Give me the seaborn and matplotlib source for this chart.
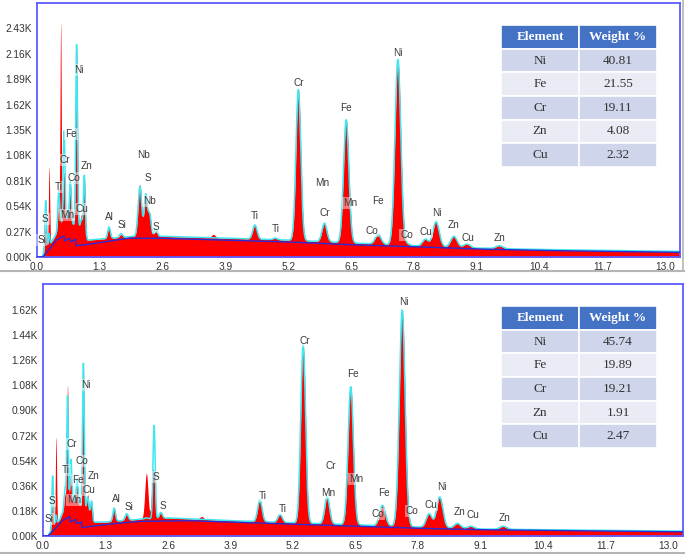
"""Two EDS spectra (counts vs keV) with element labels and weight % tables."""

import matplotlib

matplotlib.use("Agg")
import matplotlib.pyplot as plt
import numpy as np
import pandas as pd
import seaborn as sns
from matplotlib.lines import Line2D

# ---------------- data: top spectrum ----------------
top_floor_kev = [0.0, 0.1, 0.2, 0.35, 0.45, 0.6, 0.8, 0.95, 1.05, 1.3, 1.8, 2.0, 2.6, 3.9, 5.2, 6.5, 7.8, 9.1, 10.4, 11.7, 13.31]
top_floor_k = [0.0, 0.0, 0.08, 0.2, 0.3, 0.33, 0.35, 0.3, 0.18, 0.19, 0.21, 0.22, 0.22, 0.2, 0.18, 0.15, 0.12, 0.095, 0.08, 0.07, 0.06]
top_bg_kev = [0.0, 0.12, 0.25, 0.4, 0.5, 0.56, 0.57, 0.68, 0.69, 0.8, 0.81, 1.0, 1.5, 1.9, 2.5, 3.9, 5.2, 6.5, 7.8, 9.1, 10.4, 11.7, 13.31]
top_bg_k = [0.0, 0.0, 0.08, 0.18, 0.21, 0.22, 0.17, 0.2, 0.16, 0.19, 0.12, 0.13, 0.17, 0.2, 0.2, 0.18, 0.16, 0.13, 0.11, 0.085, 0.07, 0.06, 0.05]
top_peak_kev = [0.18, 0.25, 0.45, 0.49, 0.56, 0.63, 0.69, 0.82, 0.92, 0.98, 1.49, 1.74, 2.13, 2.25, 2.33, 2.46, 2.66, 3.65,
                4.51, 4.93, 5.41, 5.95, 6.40, 7.06, 7.47, 7.65, 8.04, 8.26, 8.63, 8.90, 9.57]
top_meas_k = [0.35, 0.96, 0.55, 2.46, 0.9, 0.45, 0.78, 2.2, 0.45, 0.85, 0.32, 0.24, 0.77, 0.62, 0.45, 0.28, 0.23, 0.24,
              0.34, 0.2, 1.78, 0.36, 1.46, 0.24, 2.1, 0.14, 0.19, 0.375, 0.22, 0.14, 0.12]
top_fit_k = [0.6, 0.25, 0.7, 0.4, 1.34, 0.42, 0.81, 2.26, 0.4, 0.87, 0.32, 0.25, 0.75, 0.66, 0.45, 0.3, 0.22, 0.2,
             0.34, 0.2, 1.78, 0.36, 1.46, 0.24, 2.1, 0.14, 0.19, 0.375, 0.22, 0.14, 0.12]
top_sigma = [0.017, 0.013, 0.019, 0.013, 0.019, 0.019, 0.019, 0.018, 0.019, 0.018, 0.027, 0.032, 0.037, 0.032, 0.032, 0.03, 0.03, 0.04,
             0.045, 0.045, 0.05, 0.05, 0.055, 0.06, 0.06, 0.06, 0.06, 0.065, 0.065, 0.065, 0.07]
top_labels = ["Si", "S", "Ti", "Cr", "Fe", "Ni", "Co", "Zn", "Mn", "Cu", "Al", "Si", "Nb", "S", "Nb", "S",
              "Ti", "Ti", "Cr", "Mn", "Cr", "Fe", "Mn", "Fe", "Co", "Co", "Ni", "Cu", "Ni", "Zn", "Cu", "Zn"]
top_label_kev = [0.10, 0.17, 0.44, 0.57, 0.70, 0.86, 0.77, 1.03, 0.63, 0.94, 1.49, 1.75, 2.20, 2.30, 2.33, 2.47,
                 4.51, 4.94, 5.41, 5.91, 5.96, 6.39, 6.49, 7.06, 6.93, 7.65, 7.48, 8.05, 8.27, 8.63, 8.91, 9.58]
top_label_k = [0.18, 0.40, 0.74, 1.03, 1.31, 1.99, 0.84, 0.97, 0.45, 0.51, 0.42, 0.34, 1.08, 0.84, 0.60, 0.32,
               0.44, 0.30, 1.85, 0.79, 0.47, 1.58, 0.57, 0.60, 0.28, 0.23, 2.17, 0.27, 0.47, 0.34, 0.20, 0.205]
top_yticks = [0.0, 0.27, 0.54, 0.81, 1.08, 1.35, 1.62, 1.89, 2.16, 2.43]
top_elements = ["Ni", "Fe", "Cr", "Zn", "Cu"]
top_weights = [40.81, 21.55, 19.11, 4.08, 2.32]

# ---------------- data: bottom spectrum ----------------
bot_floor_kev = [0.0, 0.1, 0.2, 0.35, 0.45, 0.6, 0.8, 0.95, 1.05, 1.3, 2.0, 2.6, 3.9, 5.2, 6.5, 7.8, 9.1, 10.4, 11.7, 13.31]
bot_floor_k = [0.0, 0.0, 0.05, 0.12, 0.2, 0.24, 0.22, 0.18, 0.1, 0.1, 0.12, 0.13, 0.11, 0.095, 0.08, 0.065, 0.05, 0.045, 0.04, 0.035]
bot_bg_kev = [0.0, 0.1, 0.25, 0.4, 0.5, 0.56, 0.57, 0.68, 0.69, 0.8, 0.81, 1.0, 1.5, 2.0, 3.0, 3.9, 5.2, 6.5, 7.8, 9.1, 10.4, 11.7, 13.31]
bot_bg_k = [0.0, 0.0, 0.05, 0.11, 0.13, 0.14, 0.1, 0.12, 0.09, 0.1, 0.06, 0.07, 0.09, 0.105, 0.11, 0.1, 0.085, 0.07, 0.055, 0.045, 0.04, 0.035, 0.03]
bot_peak_kev = [0.20, 0.27, 0.46, 0.51, 0.58, 0.64, 0.71, 0.84, 0.93, 1.01, 1.48, 1.74, 2.15, 2.28, 2.31, 2.45, 3.30,
                4.51, 4.93, 5.41, 5.91, 6.40, 7.06, 7.47, 8.03, 8.25, 8.62, 8.90, 9.57]
bot_meas_k = [0.25, 0.71, 0.3, 1.08, 0.45, 0.25, 0.36, 1.2, 0.3, 0.25, 0.2, 0.16, 0.45, 0.38, 0.3, 0.17, 0.14,
              0.26, 0.155, 1.37, 0.28, 1.07, 0.22, 1.62, 0.16, 0.28, 0.09, 0.07, 0.07]
bot_fit_k = [0.43, 0.15, 0.35, 1.0, 0.55, 0.25, 0.41, 1.24, 0.28, 0.25, 0.2, 0.16, 0.13, 0.13, 0.79, 0.17, 0.11,
             0.26, 0.155, 1.37, 0.28, 1.07, 0.22, 1.62, 0.16, 0.28, 0.09, 0.07, 0.07]
bot_sigma = [0.017, 0.013, 0.019, 0.015, 0.019, 0.019, 0.019, 0.017, 0.019, 0.019, 0.027, 0.032, 0.033, 0.027, 0.022, 0.03, 0.04,
             0.045, 0.045, 0.05, 0.05, 0.055, 0.06, 0.06, 0.06, 0.065, 0.065, 0.065, 0.07]
bot_labels = ["Si", "S", "Ti", "Cr", "Co", "Fe", "Ni", "Zn", "Mn", "Cu", "Al", "Si", "S", "S",
              "Ti", "Ti", "Cr", "Cr", "Mn", "Fe", "Mn", "Fe", "Co", "Co", "Ni", "Cu", "Ni", "Zn", "Cu", "Zn"]
bot_label_kev = [0.13, 0.19, 0.48, 0.60, 0.80, 0.72, 0.89, 1.06, 0.64, 0.96, 1.53, 1.79, 2.34, 2.50,
                 4.56, 4.98, 5.45, 5.99, 5.93, 6.44, 6.52, 7.09, 6.96, 7.68, 7.50, 8.07, 8.29, 8.67, 8.95, 9.60]
bot_label_k = [0.12, 0.25, 0.47, 0.66, 0.54, 0.40, 1.08, 0.43, 0.26, 0.33, 0.265, 0.21, 0.42, 0.215,
               0.29, 0.195, 1.40, 0.50, 0.31, 1.16, 0.41, 0.31, 0.16, 0.18, 1.68, 0.22, 0.35, 0.17, 0.15, 0.13]
bot_yticks = [0.0, 0.18, 0.36, 0.54, 0.72, 0.90, 1.08, 1.26, 1.44, 1.62]
bot_elements = ["Ni", "Fe", "Cr", "Zn", "Cu"]
bot_weights = [45.74, 19.89, 19.21, 1.91, 2.47]

x_ticks = [0.0, 1.3, 2.6, 3.9, 5.2, 6.5, 7.8, 9.1, 10.4, 11.7, 13.0]

FRAME_BLUE = "#5c5cff"
W, H = 685, 557


def build_spectrum(energy, floor_kev, floor_k, peak_kev, peak_k, sigma):
    """Continuum from the knots plus one gaussian per peak, topped at the read height."""
    floor = np.interp(energy, floor_kev, floor_k)
    total = floor.copy()
    for e, h, s in zip(peak_kev, peak_k, sigma):
        amp = max(h - np.interp(e, floor_kev, floor_k), 0.0)
        total += amp * np.exp(-0.5 * ((energy - e) / s) ** 2)
    return total


def draw_panel(rect, floor_kev, floor_k, bg_kev, bg_k, peak_kev, meas_k, fit_k, sigma,
               labels, label_kev, label_k, yticks, ytop):
    ax = fig.add_axes(rect)
    energy = np.linspace(0.0, 13.31, 6000)
    df = pd.DataFrame({
        "keV": energy,
        "measured": build_spectrum(energy, floor_kev, floor_k, peak_kev, meas_k, sigma),
        "fit": build_spectrum(energy, floor_kev, floor_k, peak_kev, fit_k, sigma),
        "background": np.interp(energy, bg_kev, bg_k),
    })

    ax.fill_between(df["keV"], 0, df["measured"], color="#ff0000", lw=0, zorder=1)
    sns.lineplot(data=df, x="keV", y="fit", ax=ax, color="#3ee6f0", lw=1.1,
                 estimator=None, zorder=2)
    sns.lineplot(data=df, x="keV", y="background", ax=ax, color="#2b2bd6", lw=1.0,
                 estimator=None, zorder=3)

    for lab, x, y in zip(labels, label_kev, label_k):
        ax.text(x, y, lab, ha="center", va="center", fontsize=7.2, color="#3a3a3a",
                bbox=dict(boxstyle="square,pad=0.1", fc="white", ec="none", alpha=0.45),
                zorder=4)

    ax.set_xlim(0, 13.31)
    ax.set_ylim(0, ytop)
    ax.set_xticks(x_ticks)
    ax.set_xticklabels([f"{t:.1f}" for t in x_ticks])
    ax.set_yticks(yticks)
    ax.set_yticklabels([f"{t:.2f}K" for t in yticks])
    ax.set_xlabel("")
    ax.set_ylabel("")
    ax.tick_params(axis="both", labelsize=7.3, labelcolor="#333333", length=2,
                   color="#777777", pad=1.5)
    for side in ax.spines.values():
        side.set_color(FRAME_BLUE)
        side.set_linewidth(1.3)
    return ax


def draw_table(rect, elements, weights):
    tax = fig.add_axes(rect)
    tax.axis("off")
    cells = [[e, f"{w:.2f}"] for e, w in zip(elements, weights)]
    tbl = tax.table(cellText=cells, colLabels=["Element", "Weight %"],
                    cellLoc="center", bbox=[0, 0, 1, 1])
    tbl.auto_set_font_size(False)
    for (r, c), cell in tbl.get_celld().items():
        cell.set_edgecolor("white")
        cell.set_linewidth(1.2)
        txt = cell.get_text()
        txt.set_fontfamily("Liberation Serif")
        txt.set_fontsize(9.5)
        if r == 0:
            cell.set_facecolor("#4472c4")
            txt.set_color("white")
            txt.set_fontweight("bold")
        else:
            cell.set_facecolor("#cfd5ea" if r % 2 == 1 else "#e9ebf5")
            txt.set_color("#333333")


sns.set_style("white")
plt.rcParams["font.family"] = ["Liberation Sans", "DejaVu Sans"]

fig = plt.figure(figsize=(W / 100, H / 100), dpi=100)


def fr(x0, y_top, x1, y_bot):
    return [x0 / W, 1 - y_bot / H, (x1 - x0) / W, (y_bot - y_top) / H]


draw_panel(fr(37, 3, 680, 257), top_floor_kev, top_floor_k, top_bg_kev, top_bg_k,
           top_peak_kev, top_meas_k, top_fit_k, top_sigma,
           top_labels, top_label_kev, top_label_k, top_yticks, 2.70)
draw_panel(fr(43, 284, 683, 536), bot_floor_kev, bot_floor_k, bot_bg_kev, bot_bg_k,
           bot_peak_kev, bot_meas_k, bot_fit_k, bot_sigma,
           bot_labels, bot_label_kev, bot_label_k, bot_yticks, 1.807)

draw_table(fr(501, 25, 657, 167), top_elements, top_weights)
draw_table(fr(501, 306, 657, 448), bot_elements, bot_weights)

# grey separators between the two screenshots
for yy in (271, 553):
    fig.add_artist(Line2D([0, 1], [1 - yy / H, 1 - yy / H], color="#b5b5b5", lw=1.5))
fig.add_artist(Line2D([683 / W, 683 / W], [1 - 271 / H, 1], color="#b5b5b5", lw=1.2))

fig.savefig("out.png", dpi=100)
plt.close(fig)
